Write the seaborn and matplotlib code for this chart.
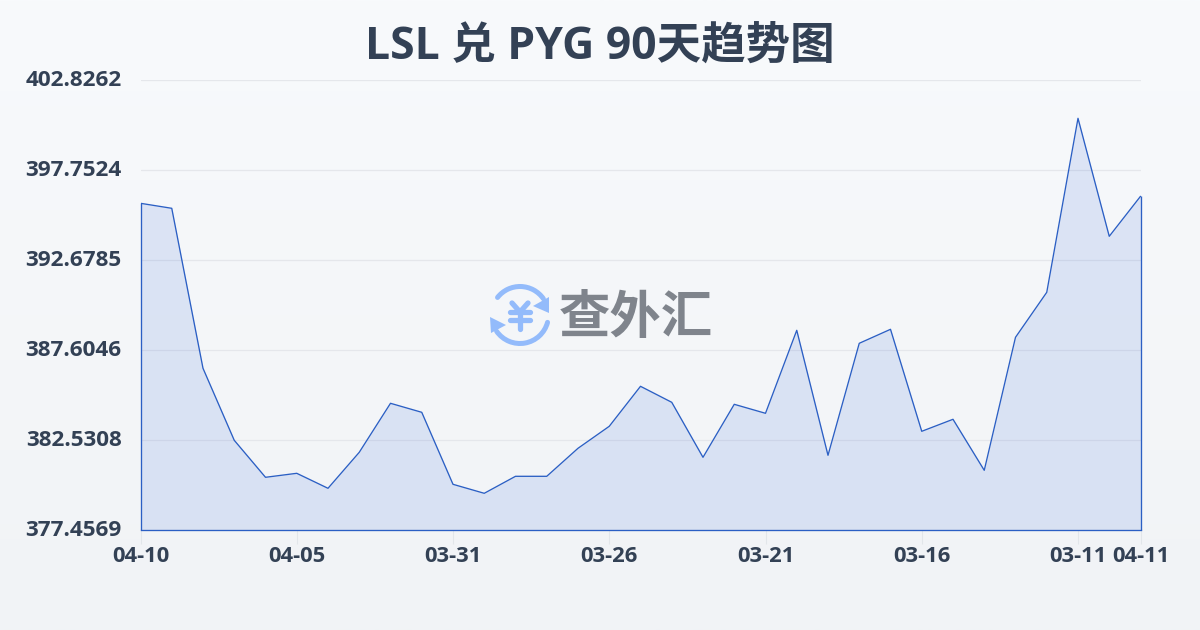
import numpy as np
import pandas as pd
import matplotlib
matplotlib.use("Agg")
import matplotlib.pyplot as plt
from matplotlib.patches import Arc, Polygon
import seaborn as sns

title = "LSL 兑 PYG 90天趋势图"
rates = [395.892, 395.610, 386.590, 382.531, 380.445, 380.670, 379.825, 381.854,
         384.617, 384.109, 380.050, 379.543, 380.501, 380.501, 382.080, 383.320,
         385.575, 384.673, 381.572, 384.560, 384.053, 388.732, 381.685, 387.999,
         388.788, 383.038, 383.715, 380.839, 388.337, 390.874, 400.684, 394.031,
         396.286]
x_tick_pos = [0, 5, 10, 15, 20, 25, 30, 32]
x_tick_labels = ["04-10", "04-05", "03-31", "03-26", "03-21", "03-16", "03-11", "04-11"]
y_ticks = [377.4569, 382.5308, 387.6046, 392.6785, 397.7524, 402.8262]

sns.set_theme(style="white")
plt.rcParams['font.family'] = ['Open Sans', 'Noto Sans CJK SC', 'DejaVu Sans']
TXT = "#334155"
BLUE = "#2b5fc4"

fig = plt.figure(figsize=(12, 6.3), dpi=100)
# page background gradient
bg = fig.add_axes([0, 0, 1, 1], zorder=0)
grad = np.linspace(0, 1, 256)[:, None, None]
top = np.array([0xf8, 0xfa, 0xfc]) / 255
bot = np.array([0xf1, 0xf3, 0xf6]) / 255
bg.imshow(top + (bot - top) * grad, aspect="auto", extent=[0, 1200, 630, 0])
bg.axis("off")

ax = fig.add_axes([140.5 / 1200, 1 - 530.3 / 630, 1000 / 1200, 450 / 630], zorder=1)
ax.patch.set_alpha(0)
df = pd.DataFrame({"i": np.arange(len(rates)), "rate": rates})
ax.fill_between(df["i"], df["rate"], y_ticks[0], color="#2a5fd8", alpha=0.125, lw=0, zorder=2)
sns.lineplot(data=df, x="i", y="rate", ax=ax, color=BLUE, lw=0.95, zorder=3)
ax.vlines([df["i"].iloc[0], df["i"].iloc[-1]], y_ticks[0], [rates[0], rates[-1]],
          color=BLUE, lw=0.95, zorder=3, clip_on=False)
ax.set_xlim(0, len(rates) - 1)
ax.set_ylim(y_ticks[0], y_ticks[-1])
ax.set_xlabel("")
ax.set_ylabel("")
ax.set_yticks(y_ticks)
ax.set_yticklabels([f"{v:.4f}" for v in y_ticks], fontsize=16.2, fontweight="bold", color=TXT,
                   va="center")
ax.set_xticks(x_tick_pos)
ax.set_xticklabels(x_tick_labels, fontsize=15.8, fontweight="bold", color=TXT)
ax.tick_params(axis="y", length=0, pad=13.5)
ax.tick_params(axis="x", length=10, width=0.8, color="#e2e6ea", pad=1, bottom=True)
ax.grid(axis="y", color="#e5e7eb", lw=0.9, zorder=1)
ax.grid(axis="x", visible=False)
for s in ["top", "right", "left"]:
    ax.spines[s].set_visible(False)
ax.spines["bottom"].set_color(BLUE)
ax.spines["bottom"].set_linewidth(0.95)

fig.text(600 / 1200, 1 - 47 / 630, title, ha="center", va="center",
         fontsize=32, fontweight="bold", color=TXT, zorder=5)

# watermark overlay in pixel coordinates
ov = fig.add_axes([0, 0, 1, 1], zorder=4)
ov.set_xlim(0, 1200)
ov.set_ylim(630, 0)
ov.axis("off")
ov.patch.set_alpha(0)
ICON = "#93bbfb"
cx, cy = 520, 315
ov.add_patch(Arc((cx, cy), 57, 57, theta1=218, theta2=325, color=ICON, lw=3.6, capstyle="round"))
ov.add_patch(Arc((cx, cy), 57, 57, theta1=15, theta2=145, color=ICON, lw=3.6, capstyle="round"))
ov.add_patch(Polygon([[549, 297], [549, 313], [533, 306]], color=ICON, lw=0))
ov.add_patch(Polygon([[490, 317], [506, 325], [491, 333]], color=ICON, lw=0))
for seg in ([[512, 303], [520, 312], [528, 303]],
            [[510, 312], [530, 312]],
            [[510, 320], [530, 320]],
            [[520, 312], [520, 329]]):
    xs, ys = zip(*seg)
    ov.plot(xs, ys, color=ICON, lw=3.8, solid_capstyle="round", solid_joinstyle="round")
ov.text(636, 318, "查外汇", ha="center", va="center", fontsize=37, fontweight="bold", color="#7f848c",
        family="Noto Sans CJK SC")

fig.savefig("out.png", dpi=100)
